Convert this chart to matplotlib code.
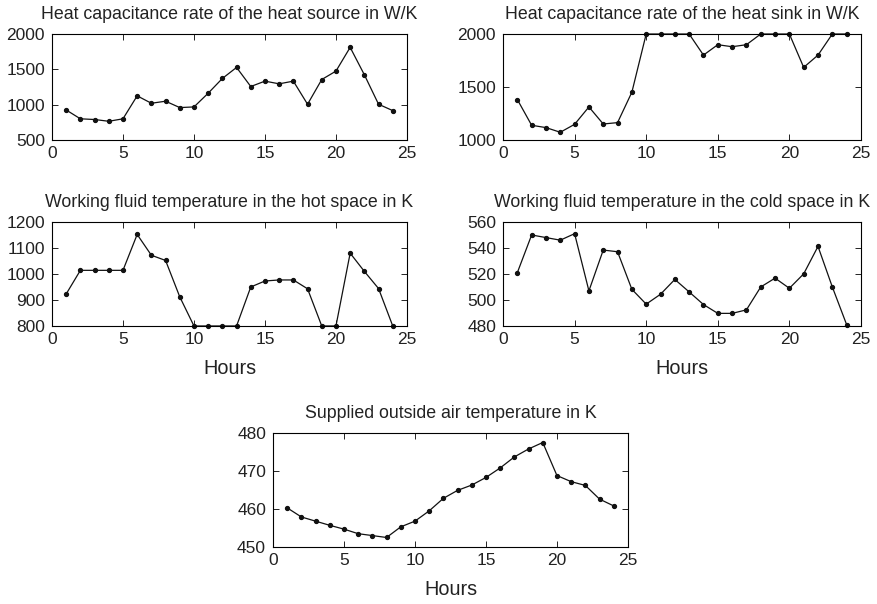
import matplotlib
matplotlib.use("Agg")
import matplotlib.pyplot as plt

plt.rcParams['font.family'] = ['Liberation Sans', 'DejaVu Sans']

hours = list(range(1, 25))

# heat capacitance rates, W/K
source_rate = [925, 800, 790, 765, 800, 1125, 1020, 1049, 959, 968, 1162, 1371,
               1527, 1257, 1333, 1295, 1333, 1006, 1356, 1475, 1811, 1423, 1006, 916]
sink_rate = [1382, 1139, 1117, 1073, 1148, 1312, 1151, 1164, 1451, 2000, 2000, 2000,
             2000, 1801, 1899, 1880, 1899, 2000, 2000, 2000, 1685, 1801, 2000, 2000]

# working fluid temperatures, K
hot_temp = [923, 1014, 1014, 1014, 1014, 1152, 1072, 1052, 912, 800, 800, 800,
            800, 950, 973, 977, 977, 943, 800, 800, 1080, 1010, 944, 800]
cold_temp = [521, 550, 548, 546, 551, 507, 538.4, 537.1, 508.2, 496.8, 504.4, 515.8,
             506.2, 496.5, 489.7, 489.7, 492.4, 510, 516.8, 509, 520.1, 541.2, 510, 481]

# outside air, K
air_temp = [460.3, 457.9, 456.8, 455.7, 454.7, 453.5, 453.0, 452.5, 455.3, 456.8, 459.5, 462.8,
            464.9, 466.3, 468.3, 470.8, 473.7, 475.8, 477.5, 468.8, 467.2, 466.2, 462.6, 460.8]

panels = [
    ("Heat capacitance rate of the heat source in W/K", source_rate, (500, 2000), [500, 1000, 1500, 2000],
     [0.0592, 0.7682, 0.4043, 0.1755], False),
    ("Heat capacitance rate of the heat sink in W/K", sink_rate, (1000, 2000), [1000, 1500, 2000],
     [0.5729, 0.7682, 0.4077, 0.1755], False),
    ("Working fluid temperature in the hot space in K", hot_temp, (800, 1200), [800, 900, 1000, 1100, 1200],
     [0.0592, 0.4603, 0.4043, 0.1722], True),
    ("Working fluid temperature in the cold space in K", cold_temp, (480, 560), [480, 500, 520, 540, 560],
     [0.5729, 0.4603, 0.4077, 0.1722], True),
    ("Supplied outside air temperature in K", air_temp, (450, 480), [450, 460, 470, 480],
     [0.3109, 0.0944, 0.4043, 0.1887], True),
]

fig = plt.figure(figsize=(8.78, 6.04), dpi=100)

for title, vals, ylim, yticks, pos, xlab in panels:
    ax = fig.add_axes(pos)
    ax.plot(hours, vals, color='#111111', lw=0.9, marker='o', ms=2.8, clip_on=False)
    ax.set_xlim(0, 25)
    ax.set_ylim(*ylim)
    ax.set_xticks([0, 5, 10, 15, 20, 25])
    ax.set_yticks(yticks)
    ax.tick_params(direction='in', top=True, right=True, labelsize=12.5, length=4, width=0.6,
                   labelcolor='#222222')
    ax.tick_params(axis='x', pad=4)
    ax.tick_params(axis='y', pad=5)
    ax.set_title(title, fontsize=12.8, pad=11, color='#222222')
    for s in ax.spines.values():
        s.set_linewidth(0.8)
    if xlab:
        ax.set_xlabel("Hours", fontsize=14.3, labelpad=9, color='#222222')

fig.savefig("out.png", dpi=100)
